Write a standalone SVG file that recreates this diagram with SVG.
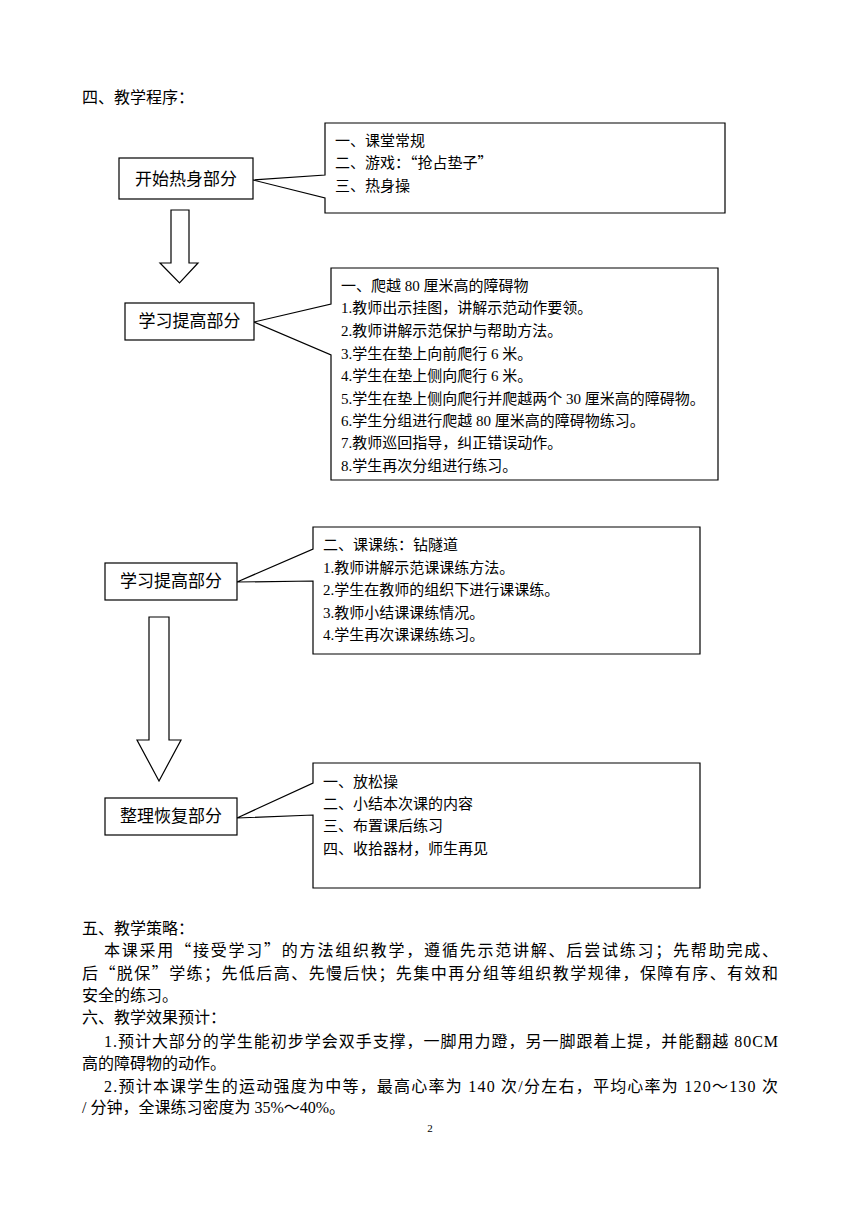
<svg xmlns="http://www.w3.org/2000/svg" width="860" height="1216" viewBox="0 0 860 1216">
<style>
text{font-family:"Liberation Serif","Noto Sans CJK SC",serif;fill:#000}
.q{font-family:"Noto Sans CJK SC",sans-serif}
.b{font-size:16px}
.c{font-size:15px}
.n{font-size:17px;text-anchor:middle}
.s{fill:#fff;stroke:#000;stroke-width:1.2}
</style>
<rect width="860" height="1216" fill="#fff"/>
<text class="b" x="82" y="103">四、教学程序：</text>

<g id="connectors">
<path class="s" d="M171,210 H189 V263 H198 L179.5,283 L160,263 H171 Z"/>
<path class="s" d="M149,617 H169 V740 H181 L159,781 L137,740 H149 Z"/>
</g>

<g id="callout1">
<path class="s" d="M325,123 H725 V213 H325 V198 L253,180 L325,175 Z"/>
<text class="c" x="335" y="146">一、课堂常规</text>
<text class="c" x="335" y="168">二、游戏：<tspan class="q">“</tspan>抢占垫子<tspan class="q">”</tspan></text>
<text class="c" x="335" y="191">三、热身操</text>
</g>
<g id="node1">
<rect class="s" x="119" y="158" width="134" height="41"/>
<text class="n" x="186" y="185">开始热身部分</text>
</g>

<g id="callout2">
<path class="s" d="M331,268 H718 V480 H331 V355 L254,322 L331,304 Z"/>
<text class="c" x="341" y="291">一、爬越 80 厘米高的障碍物</text>
<text class="c" x="341" y="313">1.教师出示挂图，讲解示范动作要领。</text>
<text class="c" x="341" y="336">2.教师讲解示范保护与帮助方法。</text>
<text class="c" x="341" y="359">3.学生在垫上向前爬行 6 米。</text>
<text class="c" x="341" y="381">4.学生在垫上侧向爬行 6 米。</text>
<text class="c" x="341" y="404">5.学生在垫上侧向爬行并爬越两个 30 厘米高的障碍物。</text>
<text class="c" x="341" y="426">6.学生分组进行爬越 80 厘米高的障碍物练习。</text>
<text class="c" x="341" y="448">7.教师巡回指导，纠正错误动作。</text>
<text class="c" x="341" y="471">8.学生再次分组进行练习。</text>
</g>
<g id="node2">
<rect class="s" x="125" y="303" width="129" height="37"/>
<text class="n" x="189.5" y="327">学习提高部分</text>
</g>

<g id="callout3">
<path class="s" d="M313,527 H700 V654 H313 V581 L237,582 L313,549 Z"/>
<text class="c" x="323" y="550">二、课课练：钻隧道</text>
<text class="c" x="323" y="573">1.教师讲解示范课课练方法。</text>
<text class="c" x="323" y="595">2.学生在教师的组织下进行课课练。</text>
<text class="c" x="323" y="618">3.教师小结课课练情况。</text>
<text class="c" x="323" y="640">4.学生再次课课练练习。</text>
</g>
<g id="node3">
<rect class="s" x="105" y="563" width="132" height="37"/>
<text class="n" x="171" y="587">学习提高部分</text>
</g>

<g id="callout4">
<path class="s" d="M313,763 H700 V888 H313 V815 L237,818 L313,783 Z"/>
<text class="c" x="323" y="787">一、放松操</text>
<text class="c" x="323" y="809">二、小结本次课的内容</text>
<text class="c" x="323" y="831">三、布置课后练习</text>
<text class="c" x="323" y="854">四、收拾器材，师生再见</text>
</g>
<g id="node4">
<rect class="s" x="105" y="798" width="132" height="37"/>
<text class="n" x="171" y="822">整理恢复部分</text>
</g>

<text class="b" x="82" y="934">五、教学策略：</text>
<text class="b" x="104" y="956" textLength="674" lengthAdjust="spacing">本课采用<tspan class="q">“</tspan>接受学习<tspan class="q">”</tspan>的方法组织教学，遵循先示范讲解、后尝试练习；先帮助完成、</text>
<text class="b" x="82" y="979" textLength="696" lengthAdjust="spacing">后<tspan class="q">“</tspan>脱保<tspan class="q">”</tspan>学练；先低后高、先慢后快；先集中再分组等组织教学规律，保障有序、有效和</text>
<text class="b" x="82" y="1001">安全的练习。</text>
<text class="b" x="82" y="1023">六、教学效果预计：</text>
<text class="b" x="104" y="1047" textLength="674" lengthAdjust="spacing">1.预计大部分的学生能初步学会双手支撑，一脚用力蹬，另一脚跟着上提，并能翻越 80CM</text>
<text class="b" x="82" y="1069">高的障碍物的动作。</text>
<text class="b" x="104" y="1092" textLength="674" lengthAdjust="spacing">2.预计本课学生的运动强度为中等，最高心率为 140 次/分左右，平均心率为 120～130 次</text>
<text class="b" x="82" y="1113">/ 分钟，全课练习密度为 35%～40%。</text>
<text x="430" y="1132" style="font-size:11px;text-anchor:middle">2</text>
</svg>
